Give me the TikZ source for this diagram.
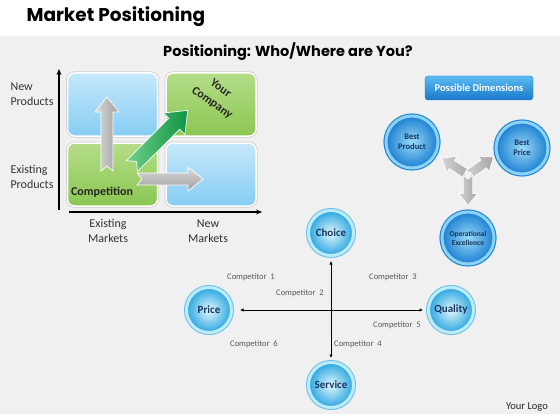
\documentclass[tikz,border=0pt]{standalone}
\usepackage{fontspec}
\setmainfont{Carlito}
\newfontfamily\headfont{Poppins}
\usepackage{xcolor}
\usetikzlibrary{arrows.meta}

\definecolor{bgGray}{HTML}{F0F0F0}
\definecolor{boxBlueTop}{HTML}{C6E8FB}
\definecolor{boxBlueBot}{HTML}{86CDF3}
\definecolor{boxGreenTop}{HTML}{B4DD88}
\definecolor{boxGreenBot}{HTML}{8BC652}
\definecolor{arrowGreenA}{HTML}{6FD08A}
\definecolor{arrowGreenB}{HTML}{0E9444}
\definecolor{ballNavy}{HTML}{17365D}
\definecolor{ballLight}{HTML}{E2F7FD}
\definecolor{ballEdge}{HTML}{2AA6E0}
\definecolor{ballRing}{HTML}{BDEBFA}
\definecolor{dimLight}{HTML}{9ADAF8}
\definecolor{dimEdge}{HTML}{1C7FD2}
\definecolor{dimRing}{HTML}{8CD2F5}
\definecolor{btnTop}{HTML}{5CBCF2}
\definecolor{btnBot}{HTML}{1878C8}
\definecolor{labelGray}{HTML}{595959}

\tikzset{
  matbox/.style={rounded corners=7pt, draw=white, line width=1.5pt,
    preaction={draw=gray!40, line width=3pt},
    minimum width=90pt, minimum height=63pt},
  bluebox/.style={matbox, top color=boxBlueTop, bottom color=boxBlueBot},
  greenbox/.style={matbox, top color=boxGreenTop, bottom color=boxGreenBot},
  axislabel/.style={font=\fontsize{12}{15}\selectfont, text=black!80},
  axis/.style={line width=1.3pt, -{Stealth[length=6pt,width=5pt]}},
  ball/.style={circle, minimum size=45pt, inner sep=0pt, align=center,
    font=\bfseries\fontsize{11}{12}\selectfont, text=ballNavy,
    inner color=ballLight, outer color=ballEdge, draw=ballRing, line width=3pt,
    preaction={draw=ballEdge!70, line width=5pt}},
  dimball/.style={ball, minimum size=52pt, font=\bfseries\fontsize{8.5}{10}\selectfont,
    inner color=dimLight, outer color=dimEdge, draw=dimRing,
    preaction={draw=dimEdge, line width=5pt}},
  rival/.style={font=\fontsize{8.5}{10}\selectfont, text=labelGray},
  crossline/.style={line width=0.9pt, {Latex[length=3.5pt,width=3.5pt]}-{Latex[length=3.5pt,width=3.5pt]}},
  grayarrow/.style={draw=white, line width=0.7pt},
  boldlabel/.style={font=\bfseries\fontsize{12}{14}\selectfont, text=black!85}
}

% block arrow: tail, angle, length, scale, shading
\newcommand{\blockarrow}[5]{%
  \begin{scope}[shift={#1}, rotate=#2, scale=#4]
    \shade[grayarrow, #5] (0,-6) -- (#3-15,-6) -- (#3-15,-12) -- (#3,0)
      -- (#3-15,12) -- (#3-15,6) -- (0,6) -- (5,0) -- cycle;
  \end{scope}}

\begin{document}
\begin{tikzpicture}[x=1pt, y=-1pt]
  \useasboundingbox (0,0) rectangle (560,420);
  % Slide background
  \fill[bgGray] (0,36) rectangle (560,414);

  % Titles
  \node[anchor=west, font=\headfont\bfseries\fontsize{18.5}{22}\selectfont] (title) at (23,17) {Market Positioning};
  \node[font=\headfont\bfseries\fontsize{14.5}{17}\selectfont] (subtitle) at (288,52) {Positioning: Who/Where are You?};

  % Matrix boxes
  \node[bluebox]  (newprod)  at (112.5,104.5) {};
  \node[greenbox] (yourco)   at (211,104.5) {};
  \node[greenbox] (existing) at (112.5,174.5) {};
  \node[bluebox]  (newmkt)   at (211,174.5) {};

  % Axes
  \coordinate (ybot) at (59,210);
  \coordinate (ytop) at (59,69);
  \coordinate (xleft) at (69,212);
  \coordinate (xright) at (262,212);
  \draw[axis] (ybot) -- (ytop);
  \draw[axis] (xleft) -- (xright);

  % Axis labels
  \node[axislabel, anchor=west, align=left] (lblnewprod) at (7,94.5) {New\\Products};
  \node[axislabel, anchor=west, align=left] (lblexprod) at (7,176.5) {Existing\\Products};
  \node[axislabel, align=center] (lblexmkt) at (108,230.5) {Existing\\Markets};
  \node[axislabel, align=center] (lblnewmkt) at (208,231.5) {New\\Markets};

  % Moves out of the home square
  \blockarrow{(107,171)}{90}{74}{1}{left color=gray!30, right color=gray!75}
  \blockarrow{(137,179)}{0}{66}{1}{top color=gray!30, bottom color=gray!75}
  \blockarrow{(132,166)}{45}{62}{1.27}{shading angle=45, left color=arrowGreenA, right color=arrowGreenB}

  \node[boldlabel] (competition) at (102,192) {Competition};
  \node[boldlabel, rotate=-35, inner sep=0pt] (your) at (221,88) {Your};
  \node[boldlabel, rotate=-35, inner sep=0pt] (company) at (212,103) {Company};

  % Possible dimensions
  \node[rounded corners=3pt, minimum width=108pt, minimum height=24pt, top color=btnTop, bottom color=btnBot,
    draw=btnBot, font=\bfseries\fontsize{10.5}{12}\selectfont, text=white] (dims) at (479,88) {Possible Dimensions};
  \blockarrow{(468,175)}{147}{39}{0.8}{left color=gray!35, right color=gray!70}
  \blockarrow{(468,175)}{35}{39}{0.8}{left color=gray!35, right color=gray!70}
  \blockarrow{(468,175)}{-90}{38}{0.8}{left color=gray!35, right color=gray!70}
  \node[dimball] (bestprod) at (412,142) {Best\\Product};
  \node[dimball] (bestprice) at (522,148) {Best\\Price};
  \node[dimball, font=\bfseries\fontsize{7.5}{9}\selectfont] (opex) at (468,238) {Operational\\Excellence};

  % Competitor map
  \node[ball] (choice)  at (331,233) {Choice};
  \node[ball] (price)   at (209,310) {Price};
  \node[ball] (quality) at (451,310) {Quality};
  \node[ball] (service) at (331,385) {Service};
  \draw[crossline, shorten <=7pt, shorten >=4pt] (price) -- (quality);
  \draw[crossline, shorten <=4pt, shorten >=3pt] (choice) -- (service);

  \node[rival] (rival1) at (251,277) {Competitor\ \ 1};
  \node[rival] (rival2) at (300,293) {Competitor\ \ 2};
  \node[rival] (rival3) at (393,277) {Competitor\ \ 3};
  \node[rival] (rival4) at (358,344) {Competitor\ \ 4};
  \node[rival] (rival5) at (397,325) {Competitor\ \ 5};
  \node[rival] (rival6) at (254,344) {Competitor\ \ 6};

  \node[font=\fontsize{10.5}{12}\selectfont, text=black!85] (logo) at (527,407) {Your Logo};
\end{tikzpicture}
\end{document}
